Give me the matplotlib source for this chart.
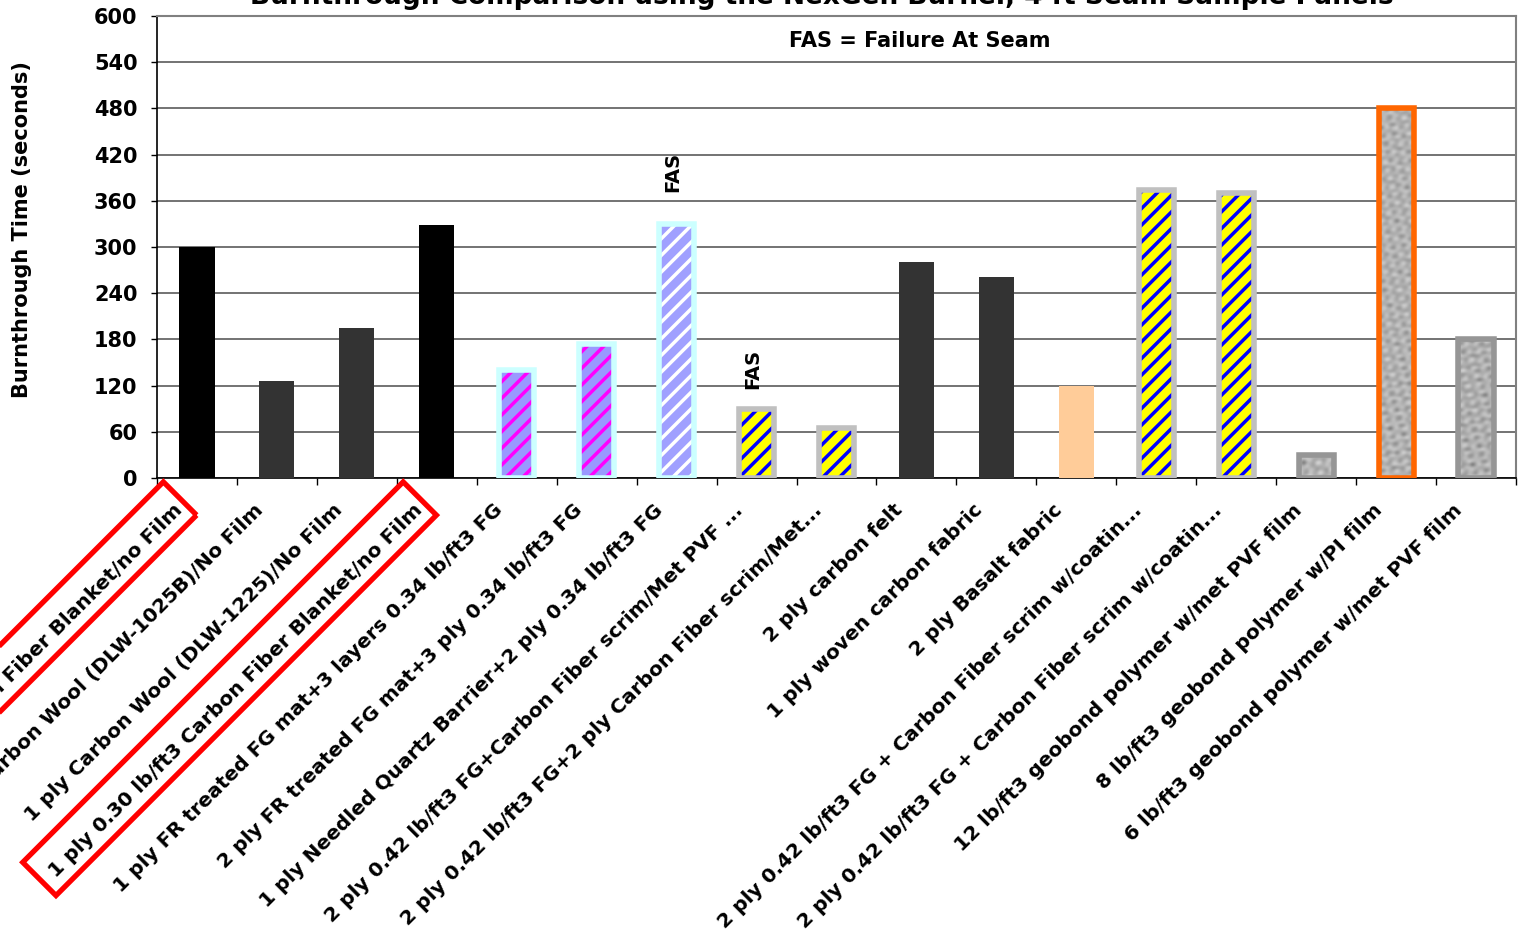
import numpy as np
import matplotlib
matplotlib.use("Agg")
import matplotlib.pyplot as plt
from matplotlib.patches import Polygon
from matplotlib.transforms import IdentityTransform, ScaledTranslation

plt.rcParams['font.family'] = 'DejaVu Sans'
plt.rcParams['font.weight'] = 'bold'
plt.rcParams['hatch.linewidth'] = 2.5

# Test materials and measured burnthrough times (seconds)
materials = [
    "1 ply 0.30 lb/ft3 Carbon Fiber Blanket/no Film",
    "1 ply Carbon Wool (DLW-1025B)/No Film",
    "1 ply Carbon Wool (DLW-1225)/No Film",
    "1 ply 0.30 lb/ft3 Carbon Fiber Blanket/no Film",
    "1 ply FR treated FG mat+3 layers 0.34 lb/ft3 FG",
    "2 ply FR treated FG mat+3 ply 0.34 lb/ft3 FG",
    "1 ply Needled Quartz Barrier+2 ply 0.34 lb/ft3 FG",
    "2 ply 0.42 lb/ft3 FG+Carbon Fiber scrim/Met PVF ...",
    "2 ply 0.42 lb/ft3 FG+2 ply Carbon Fiber scrim/Met...",
    "2 ply carbon felt",
    "1 ply woven carbon fabric",
    "2 ply Basalt fabric",
    "2 ply 0.42 lb/ft3 FG + Carbon Fiber scrim w/coatin...",
    "2 ply 0.42 lb/ft3 FG + Carbon Fiber scrim w/coatin...",
    "12 lb/ft3 geobond polymer w/met PVF film",
    "8 lb/ft3 geobond polymer w/PI film",
    "6 lb/ft3 geobond polymer w/met PVF film",
]
burn_times = [300, 126, 195, 329, 140, 174, 330, 90, 65, 280, 261, 120, 374, 370, 30, 480, 180]
bar_styles = ["black", "dark", "dark", "black", "pink", "pink", "lilac", "yellow", "yellow",
              "dark", "dark", "peach", "yellow", "yellow", "granite", "granite_orange", "granite"]
fas_bars = [6, 7]
fas_offsets = [23, 14]
highlighted = [0, 3]

y_ticks = list(range(0, 601, 60))

STYLES = {
    "black": dict(fill="#000000"),
    "dark": dict(fill="#333333"),
    "peach": dict(fill="#ffcc99"),
    "pink": dict(fill="#9999ff", hatch="#ff00ff", border="#ccffff"),
    "lilac": dict(fill="#a0a0ff", hatch="#ffffff", border="#ccffff"),
    "yellow": dict(fill="#ffff00", hatch="#0000ff", border="#c0c0c0"),
    "granite": dict(border="#969696"),
    "granite_orange": dict(border="#ff6600"),
}


def granite_texture(rows, cols, phase):
    # mottled grey stone look built from crossed sine waves
    yy, xx = np.mgrid[0:rows, 0:cols].astype(float)
    t = (np.sin(1.3 * xx + 0.9 * yy + phase) * np.sin(0.7 * xx - 1.4 * yy + 2.1 * phase)
         + 0.7 * np.sin(2.1 * xx + 1.7 * yy + 1.3 * phase)
         + 0.6 * np.cos(2.6 * yy - 0.9 * xx + 0.4 * phase)
         + 0.5 * np.sin(0.37 * yy + 0.5 * xx + phase) * np.cos(1.9 * yy))
    t = (t - t.min()) / (t.max() - t.min())
    return 0.28 + 0.68 * t ** 0.7


fig = plt.figure(figsize=(15.18, 9.41), dpi=100)
ax = fig.add_axes([157 / 1518, 1 - 478 / 941, 1359 / 1518, 462 / 941])

x = np.arange(len(materials))
width = 0.44
for i, (t, s) in enumerate(zip(burn_times, bar_styles)):
    st = STYLES[s]
    if "hatch" in st:
        ax.bar(i, t, width, color=st["fill"], edgecolor=st["hatch"], hatch="//",
               linewidth=0, zorder=3)
        ax.bar(i, t, width, fill=False, edgecolor=st["border"], linewidth=4, zorder=4)
    elif s.startswith("granite"):
        base = ax.bar(i, t, width, color="#b4b4b4", linewidth=0, zorder=3)[0]
        rows = max(3, int(t * 0.77 / 3))
        im = ax.imshow(granite_texture(rows, 11, i), cmap="gray", vmin=0, vmax=1,
                       extent=(i - width / 2, i + width / 2, 0, t), aspect="auto",
                       interpolation="bicubic", zorder=3.5)
        im.set_clip_path(base)
        ax.bar(i, t, width, fill=False, edgecolor=st["border"], linewidth=4, zorder=4)
    else:
        ax.bar(i, t, width, color=st["fill"], linewidth=0, zorder=3)

for i, off in zip(fas_bars, fas_offsets):
    ax.annotate("FAS", xy=(i, burn_times[i]), xytext=(-3, off), textcoords="offset points",
                rotation=90, ha="center", va="bottom", fontsize=14, fontweight="bold")

ax.text(0.561, 0.946, "FAS = Failure At Seam", transform=ax.transAxes,
        ha="center", va="center", fontsize=15, fontweight="bold")

ax.set_xlim(-0.5, len(materials) - 0.5)
ax.set_ylim(0, 600)
ax.set_yticks(y_ticks)
ax.set_axisbelow(True)
ax.yaxis.grid(True, color="#4d4d4d", linewidth=1.1)

ax.set_xticks(x)
ax.set_xticklabels(materials, rotation=45, ha="right", va="center",
                   rotation_mode="anchor", fontsize=14.5)
ax.set_xticks(np.arange(-0.5, len(materials), 1), minor=True)
ax.tick_params(axis="x", which="major", length=0, pad=21)
ax.tick_params(axis="x", which="minor", length=5, width=1, direction="out")
ax.tick_params(axis="y", length=4, width=1, direction="out", pad=10, labelsize=15)
shift = ScaledTranslation(-0.17, 0, fig.dpi_scale_trans)
for lab in ax.get_xticklabels():
    lab.set_transform(lab.get_transform() + shift)

for side in ("top", "right"):
    ax.spines[side].set_color("#808080")
    ax.spines[side].set_linewidth(1.5)
for side in ("left", "bottom"):
    ax.spines[side].set_color("#000000")
    ax.spines[side].set_linewidth(1.2)

fig.text(22 / 1518, 1 - 230 / 941, "Burnthrough Time (seconds)", rotation=90,
         ha="center", va="center", fontsize=15, fontweight="bold")
fig.text(822 / 1518, 1 - 4 / 941,
         "Burnthrough Comparison using the NexGen Burner, 4 ft Seam Sample Panels",
         ha="center", va="baseline", fontsize=19, fontweight="bold")

# red outline boxes around the highlighted labels
u = np.array([-1.0, -1.0]) / np.sqrt(2)
v = np.array([1.0, -1.0]) / np.sqrt(2)
for idx in highlighted:
    xc, y0 = ax.transData.transform((idx, 0))
    m = np.array([xc - 17, y0 - 20.5])
    p0 = m + 23.5 * v
    p1 = m - 23.5 * v
    pts = [p0, p1, p1 + 538 * u, p0 + 538 * u]
    fig.add_artist(Polygon(pts, closed=True, fill=False, edgecolor="#ff0000",
                           linewidth=3.8, joinstyle="miter", transform=IdentityTransform()))

fig.savefig("out.png", dpi=100)
